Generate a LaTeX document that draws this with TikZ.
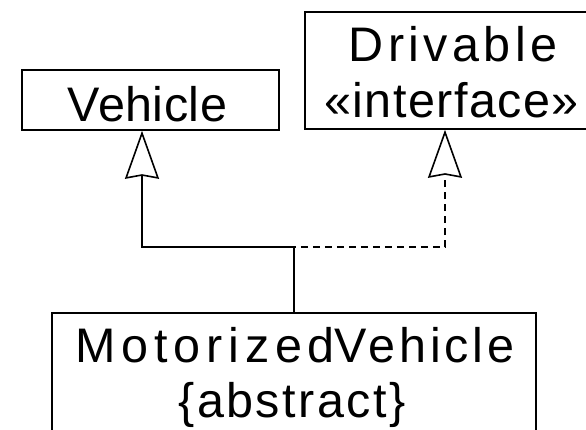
\documentclass[tikz,border=0pt]{standalone}
\usepackage{fontspec}
\newfontfamily\umlfont{Liberation Sans}
\newcommand{\spaced}[2]{{\addfontfeature{LetterSpace=#1}#2}}
\usetikzlibrary{arrows.meta}
\begin{document}
\begin{tikzpicture}[x=1pt,y=-1pt,
  classbox/.style={draw,line width=1.6pt,inner sep=0pt},
  classtext/.style={anchor=base,inner sep=0pt,
    font=\umlfont\fontsize{48.5}{56}\selectfont},
  gen/.style={line width=1.6pt,-{Stealth[open,length=48pt,width=34pt,inset=3pt,line width=1.6pt]}},
  real/.style={gen,dash pattern=on 7pt off 5pt}]
\useasboundingbox (0,0) rectangle (586,429);
% class boxes
\node[classbox,minimum width=257pt,minimum height=60pt] (veh) at (150.5,100) {};
\node[classbox,minimum width=294pt,minimum height=117pt] (drv) at (452,70.5) {};
\node[classbox,minimum width=484pt,minimum height=129pt] (mv) at (294,377.5) {};
% class names and stereotypes
\node[classtext] (vehname) at (147.5,121.5) {\spaced{1}{Vehicle}};
\node[classtext] (drvname) at (453,61) {\spaced{9}{Drivable}};
\node[classtext] (drvstereo) at (451.5,117) {\spaced{3}{«interface»}};
\node[classtext] (mvname) at (295,362) {\spaced{12}{Motorized}\spaced{8}{Vehicle}};
\node[classtext] (mvprop) at (292,417) {\spaced{5}{\{abstract\}}};
% routing points
\coordinate (j) at (294,247);
\coordinate (vx) at (142,247);
\coordinate (dx) at (445,247);
% generalization and realization
\draw[gen] (mv.north -| j) -- (j) -- (vx) -- (veh.south -| vx);
\draw[real] (mv.north -| j) -- (j) -- (dx) -- (drv.south -| dx);
\end{tikzpicture}
\end{document}
